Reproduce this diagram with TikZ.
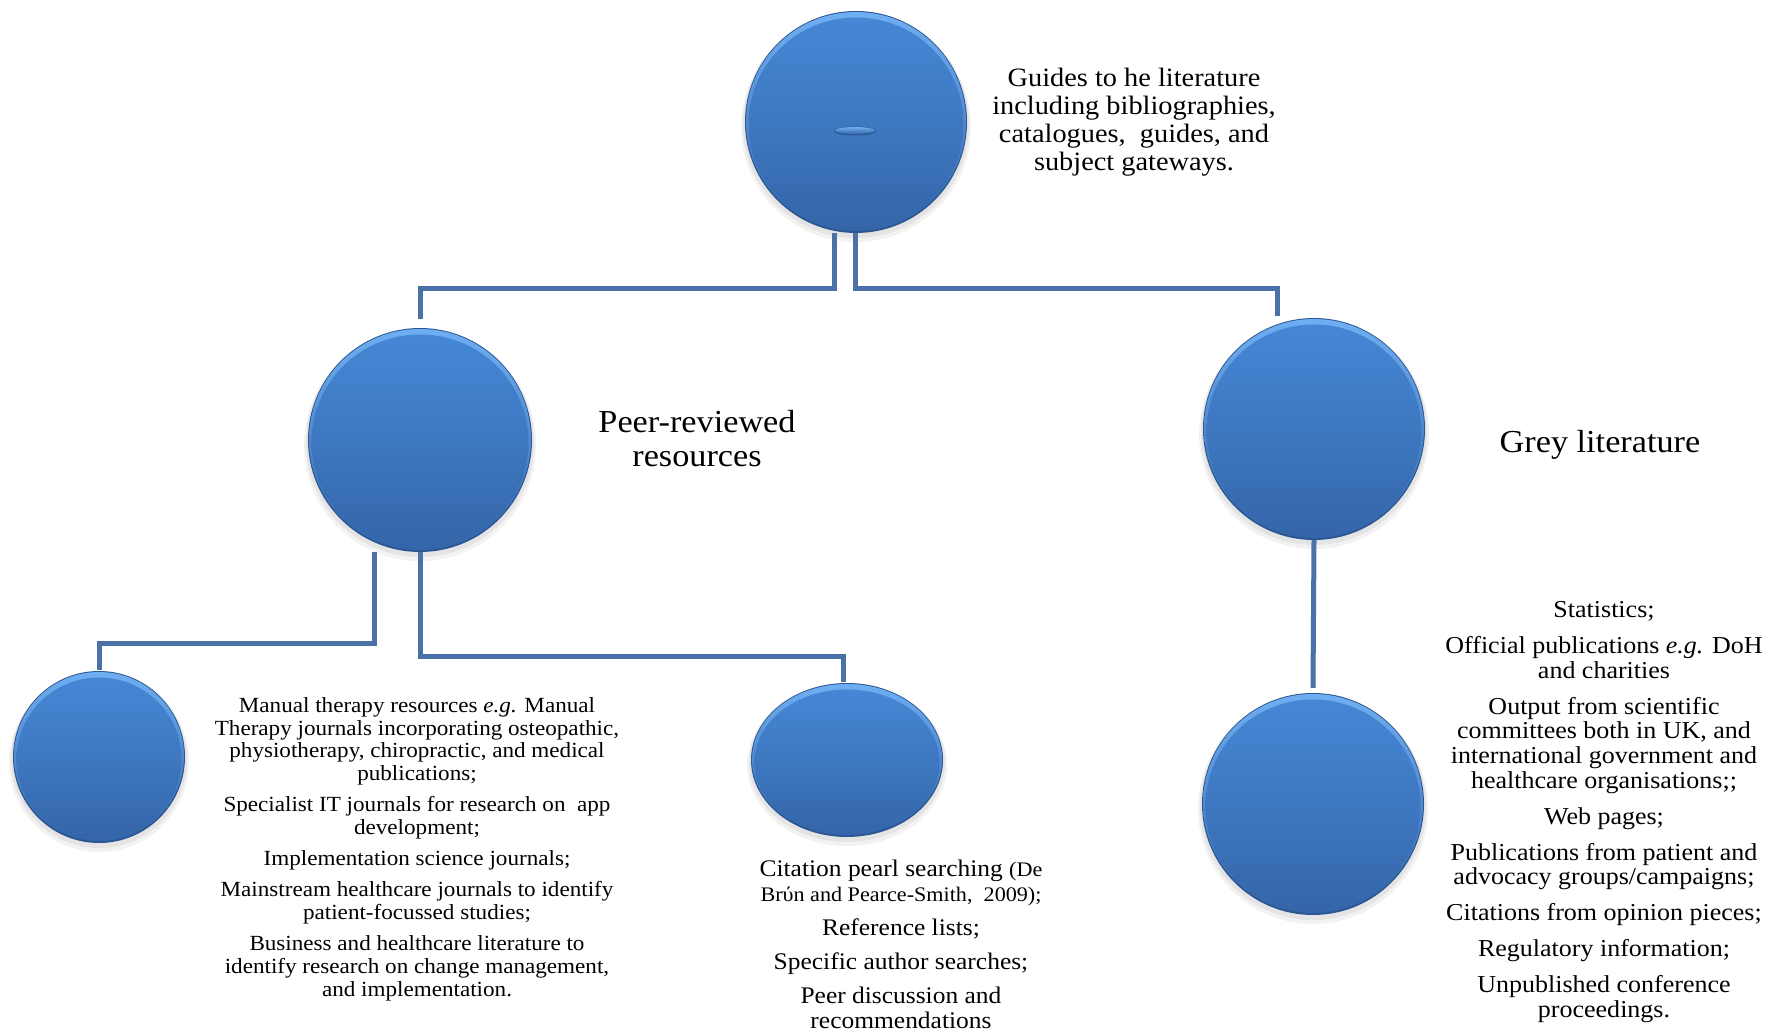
\documentclass[tikz,border=0pt]{standalone}
\usepackage{fontspec}
\setmainfont{Liberation Serif}[FakeStretch=1.07]
\usetikzlibrary{calc,shapes.geometric}

\definecolor{linkblue}{HTML}{4A72A8}
\definecolor{orbtop}{HTML}{4587D5}
\definecolor{orbbot}{HTML}{3465A8}
\definecolor{rimdark}{HTML}{2B5794}
\definecolor{rimlight}{HTML}{6FAEF2}

\tikzset{
  conn/.style={draw=linkblue, line width=5pt, line join=miter},
  txt/.style={align=center, text=black, inner sep=0pt},
}

% A bevelled blue disc: soft shadow, dark rim, light top edge, shaded body,
% plus an invisible named node carrying the anchors.
\newcommand{\draworb}[5]{%
  \fill[black, opacity=0.05] (#2,#3+5) ellipse [x radius=#4+4, y radius=#5+4];
  \fill[black, opacity=0.06] (#2,#3+3) ellipse [x radius=#4+2, y radius=#5+2];
  \fill[rimdark] (#2,#3) ellipse [x radius=#4, y radius=#5];
  \shade[top color=rimlight, bottom color=orbbot] (#2,#3-0.5) ellipse [x radius=#4-1, y radius=#5-1.5];
  \shade[top color=orbtop, bottom color=orbbot, middle color=orbtop!55!orbbot]
    (#2,#3+2) ellipse [x radius=#4-3.5, y radius=#5-4.5];
  \node[ellipse, inner sep=0pt, minimum width=2*#4 pt, minimum height=2*#5 pt] (#1) at (#2,#3) {};
}

\begin{document}
\begin{tikzpicture}[x=1pt, y=-1pt]
  \useasboundingbox (0,0) rectangle (1769,1032);

  % discs
  \draworb{guides}{856}{122}{111}{111}
  \draworb{peer}{420}{440}{112}{112}
  \draworb{grey}{1314}{429}{111}{111}
  \draworb{manual}{99}{757}{86}{86}
  \draworb{citation}{847}{760}{96}{77}
  \draworb{greyitems}{1313}{804}{111}{111}

  % small lens on the top disc
  \fill[rimdark] (855,131) ellipse [x radius=21, y radius=4.5];
  \shade[top color=rimlight, bottom color=orbbot] (855,130.5) ellipse [x radius=20, y radius=3.5];
  \node[ellipse, inner sep=0pt, minimum width=42pt, minimum height=9pt] (lens) at (855,131) {};

  % connectors
  \draw[conn] ([xshift=-22pt]guides.south) -- ++(0,55) -| ([yshift=9pt]peer.north);
  \draw[conn] ([xshift=-1pt]guides.south) -- ++(0,55) -| ([xshift=-37pt,yshift=2pt]grey.north);
  \draw[conn] ([xshift=-46pt]peer.south) -- ++(0,91) -| ([yshift=1pt]manual.north);
  \draw[conn] (peer.south) -- ++(0,104) -| ([xshift=-4pt,yshift=1pt]citation.north);
  \draw[conn] (grey.south) -- ([yshift=5pt]greyitems.north);

  % labels
  \node[txt, font=\fontsize{26.5}{28}\selectfont] (tguides) at (1134,122.5)
    {Guides to he literature\\including bibliographies,\\catalogues,\ \ guides, and\\subject gateways.};
  \node[txt, font=\fontsize{32}{34}\selectfont] (tpeer) at (697,439)
    {Peer-reviewed\\resources};
  \node[txt, font=\fontsize{32}{34}\selectfont] (tgrey) at (1600,444.5)
    {Grey literature};

  \node[txt, font=\fontsize{21.6}{22.7}\selectfont] (tmanual) at (417,849)
    {Manual therapy resources \textit{e.g.} Manual\\
     Therapy journals incorporating osteopathic,\\
     physiotherapy, chiropractic, and medical\\
     publications;\\[8.5pt]
     Specialist IT journals for research on\ \ app\\
     development;\\[8.5pt]
     Implementation science journals;\\[8.5pt]
     Mainstream healthcare journals to identify\\
     patient-focussed studies;\\[8.5pt]
     Business and healthcare literature to\\
     identify research on change management,\\
     and implementation.};

  \node[txt, font=\fontsize{23.8}{25}\selectfont] (tcitation) at (901,944)
    {Citation pearl searching {\fontsize{20.7}{22}\selectfont (De}\\
     {\fontsize{20.7}{22}\selectfont Brύn and Pearce-Smith,\ \ 2009);}\\[9pt]
     Reference lists;\\[9pt]
     Specific author searches;\\[9pt]
     Peer discussion and\\
     recommendations};

  \node[txt, font=\fontsize{24.3}{24.8}\selectfont] (tgreyitems) at (1604,812)
    {Statistics;\\[11pt]
     Official publications \textit{e.g.} DoH\\
     and charities\\[11pt]
     Output from scientific\\
     committees both in UK, and\\
     international government and\\
     healthcare organisations;;\\[11pt]
     Web pages;\\[11pt]
     Publications from patient and\\
     advocacy groups/campaigns;\\[11pt]
     Citations from opinion pieces;\\[11pt]
     Regulatory information;\\[11pt]
     Unpublished conference\\
     proceedings.};
\end{tikzpicture}
\end{document}
